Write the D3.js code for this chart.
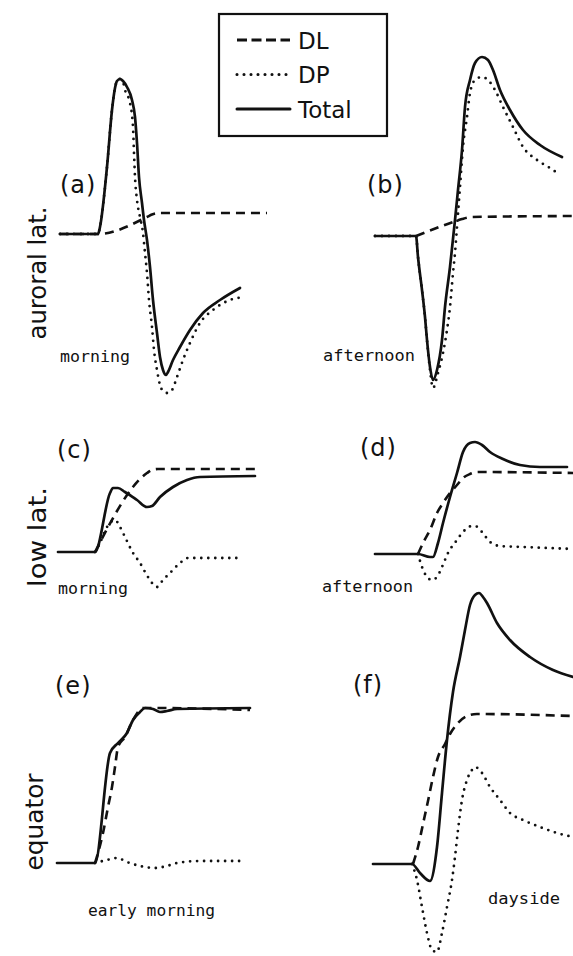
<!DOCTYPE html>
<html><head><meta charset="utf-8">
<script src="https://cdn.jsdelivr.net/npm/d3@7"></script>
<style>body{margin:0;background:#fff}svg{display:block}</style>
</head><body>
<svg id="c" width="573" height="956"></svg>
<script>
// ---------- data (time units, disturbance units; baseline = 0) ----------
const seriesNames = ["DL", "DP", "Total"];
const panelLetters = ["(a)", "(b)", "(c)", "(d)", "(e)", "(f)"];
const rowLabels = ["auroral lat.", "low lat.", "equator"];
const localTimes = ["morning", "afternoon", "morning", "afternoon", "early morning", "dayside"];

// (a) auroral latitude, morning
const aDL = [[1,0],[20,0],[44.5,17],[47,19.5],[51,21],[104.5,21]];
const aDP = [[1,0],[20,0],[21,7],[24.5,67],[27,124],[28.5,146],[29.5,153],[31,155],[32.5,152],[33.5,144],[36,131],[37.5,107],[38,81],[38.5,57],[39.5,34],[41,17],[42.5,1],[43.5,-19],[44.5,-39],[45.5,-66],[47,-93],[48,-116],[49.5,-136],[51,-151],[52.5,-157],[54.5,-159],[57,-156],[59.5,-143],[62.5,-126],[66,-109],[71,-89],[77.5,-76],[86,-66],[93.5,-63]];
const aTotal = [[1,0],[20,0],[21,7],[24.5,67],[27,124],[28.5,146],[29.5,153],[31,155],[32.5,153],[34.5,147],[37,134],[38.5,117],[39.5,91],[40.5,57],[42,31],[43,14],[44.5,-6],[46,-33],[47.5,-66],[49.5,-99],[51,-123],[52.5,-136],[54,-141],[55,-138],[57.5,-126],[61,-113],[66,-96],[72.5,-79],[81,-66],[91,-54]];

// (b) auroral latitude, afternoon
const bDL = [[21,0],[39.5,14],[44,17],[49,19],[99.5,20]];
const bDP = [[0.5,0],[21,0],[22,-21],[24,-54],[25.5,-81],[26.5,-104],[28,-134],[29.5,-152],[32,-137],[34.5,-117],[36.5,-94],[38,-71],[39.5,-37],[40.5,-17],[41.5,9],[43,49],[44.5,89],[46.5,119],[48,143],[50.5,156],[54,159],[57,156],[60.5,146],[64.5,129],[69.5,109],[74.5,89],[81.5,76],[88,68],[93,61]];
const bTotal = [[0.5,0],[21,0],[22,-21],[24,-54],[25.5,-81],[26.5,-104],[28,-131],[29.5,-144],[31.5,-134],[34,-104],[35.5,-71],[38,-31],[40.5,16],[42,46],[44,86],[45.5,129],[48,156],[50.5,173],[54,179],[57,176],[59.5,166],[63,146],[68,126],[74.5,106],[83,91],[94,79]];

// (c) low latitude, morning
const cDL = [[18.5,0],[44.5,79],[47,82],[50,83],[98.5,83]];
const cDP = [[18.5,0],[21,9],[24.5,25],[28.5,32],[31,25],[33.5,15],[37.5,-1],[41,-11],[45,-25],[49.5,-35],[52.5,-28],[56,-21],[61,-11],[65,-6],[91,-6]];
const cTotal = [[0,0],[18.5,0],[26,59],[27.5,64],[30,64],[33.5,60],[39.5,52],[44.5,45],[47,46],[51,55],[57.5,65],[64.5,72],[71,75],[98.5,76]];

// (d) low latitude, afternoon
const dDL = [[22,0],[24.5,11],[28,24],[31.5,41],[34.5,51],[38,61],[41.5,69],[44.5,76],[48,80],[52,82],[99.5,81]];
const dDP = [[22,0],[24,-13],[26.5,-23],[29,-26],[31.5,-23],[34,-13],[37,1],[41.5,14],[44.5,22],[49,28],[50.5,28],[54,22],[58,12],[63,8],[74.5,7],[99.5,5]];
const dTotal = [[0.5,0],[22,0],[28,-3],[29.5,-3],[32,11],[34.5,31],[38,57],[41.5,81],[44.5,102],[48,111],[50.5,112],[54,109],[58,102],[64.5,95],[73,89],[83,87],[96.5,87]];

// (e) equator, early morning
const eDL = [[18.5,0],[22.5,30],[25,56],[27,76],[28.5,96],[30,116],[33.5,126],[37.5,143],[42.5,155],[47.5,155],[96,153]];
const eDP = [[18.5,0],[24.5,3],[29.5,5],[34.5,1],[41,-3],[48.5,-5],[54.5,-3],[59.5,0],[71,2],[91,2]];
const eTotal = [[-0.5,0],[18.5,0],[26,110],[30,120],[34.5,130],[37.5,143],[41,151],[43.5,155],[47.5,154],[51,151],[54.5,152],[59.5,154],[96,155]];

// (f) equator, dayside
const fDL = [[19.5,0],[22,17],[24.5,40],[27,63],[29.5,87],[32,107],[35.5,120],[38,130],[41.5,140],[46.5,148],[51.5,150],[99.5,148]];
const fDP = [[19,0],[21.5,-16],[24,-43],[26.5,-69],[29,-86],[31.5,-88],[34,-69],[36.5,-43],[39,-16],[40.5,7],[42,34],[44,64],[46.5,84],[49,94],[50.5,97],[54,91],[58,77],[63,64],[68,51],[74.5,44],[83,37],[91.5,31],[99.5,27]];
const fTotal = [[-0.5,0],[19,0],[23,-9],[28,-17],[31.5,17],[34,71],[36.5,124],[39.5,172],[43,207],[45.5,234],[48,259],[50.5,269],[52.5,271],[54.5,267],[56.5,261],[61.5,241],[68,224],[78,207],[89.5,194],[99.5,187]];

const panelData = [
  {DL: aDL, DP: aDP, Total: aTotal},
  {DL: bDL, DP: bDP, Total: bTotal},
  {DL: cDL, DP: cDP, Total: cTotal},
  {DL: dDL, DP: dDP, Total: dTotal},
  {DL: eDL, DP: eDP, Total: eTotal},
  {DL: fDL, DP: fDP, Total: fTotal}
];

// ---------- layout / style ----------
const layout = [
  {x0: 58,  base: 234, lx: 60,  ly: 193, tx: 60,  ty: 362, tl: 70},
  {x0: 374, base: 236, lx: 367, ly: 193, tx: 323, ty: 361, tl: 92},
  {x0: 58,  base: 552, lx: 57,  ly: 458, tx: 58,  ty: 594, tl: 70},
  {x0: 374, base: 554, lx: 360, ly: 456, tx: 322, ty: 592, tl: 91},
  {x0: 58,  base: 863, lx: 55,  ly: 694, tx: 88,  ty: 916, tl: 127},
  {x0: 374, base: 864, lx: 353, ly: 693, tx: 488, ty: 904, tl: 72}
];
const rowLayout = [
  {x: 46, y: 273, len: 133, fs: 24},
  {x: 46, y: 537, len: 100, fs: 24},
  {x: 43, y: 822, len: 97, fs: 25}
];
const ink = "#111";
const styles = {
  DL:    {w: 2.6, dash: "9,6", cap: "butt"},
  DP:    {w: 2.8, dash: "0,7", cap: "round"},
  Total: {w: 2.7, dash: null, cap: "round"}
};

const svg = d3.select("#c");
svg.append("rect").attr("width", 573).attr("height", 956).attr("fill", "#fff");

panelData.forEach((pd, i) => {
  const L = layout[i];
  const x = d3.scaleLinear().domain([0, 100]).range([L.x0, L.x0 + 200]);
  const y = d3.scaleLinear().domain([0, 100]).range([L.base, L.base - 100]);
  const line = d3.line().x(d => x(d[0])).y(d => y(d[1])).curve(d3.curveMonotoneX);
  const g = svg.append("g");
  ["DP", "DL", "Total"].forEach(k => {
    const s = styles[k];
    g.append("path").attr("d", line(pd[k]))
      .attr("fill", "none").attr("stroke", ink)
      .attr("stroke-width", s.w)
      .attr("stroke-linecap", s.cap)
      .attr("stroke-linejoin", "round")
      .attr("stroke-dasharray", s.dash);
  });
  svg.append("text").attr("x", L.lx).attr("y", L.ly)
    .attr("font-family", "DejaVu Sans").attr("font-size", 24)
    .attr("letter-spacing", 1).attr("fill", ink)
    .text(panelLetters[i]);
  svg.append("text").attr("x", L.tx).attr("y", L.ty)
    .attr("font-family", "DejaVu Sans Mono").attr("font-size", 15.5)
    .attr("textLength", L.tl).attr("lengthAdjust", "spacingAndGlyphs")
    .attr("fill", ink)
    .text(localTimes[i]);
});

rowLabels.forEach((t, i) => {
  const R = rowLayout[i];
  svg.append("text")
    .attr("transform", `translate(${R.x},${R.y}) rotate(-90)`)
    .attr("text-anchor", "middle")
    .attr("font-family", "DejaVu Sans").attr("font-size", R.fs)
    .attr("textLength", R.len).attr("lengthAdjust", "spacingAndGlyphs")
    .attr("fill", ink).text(t);
});

// ---------- legend ----------
const leg = svg.append("g");
leg.append("rect").attr("x", 219).attr("y", 14).attr("width", 168).attr("height", 122)
  .attr("fill", "#fff").attr("stroke", ink).attr("stroke-width", 2.2);
seriesNames.forEach((n, i) => {
  const yy = 40 + i * 34.5;
  const s = styles[n];
  leg.append("line").attr("x1", 237).attr("x2", 290).attr("y1", yy).attr("y2", yy)
    .attr("stroke", ink).attr("stroke-width", s.w + 0.3)
    .attr("stroke-linecap", s.cap)
    .attr("stroke-dasharray", n === "DL" ? "10,4.5" : s.dash);
  leg.append("text").attr("x", 298).attr("y", yy + 8.5)
    .attr("font-family", "DejaVu Sans").attr("font-size", 23)
    .attr("fill", ink).text(n);
});
</script>
</body></html>
